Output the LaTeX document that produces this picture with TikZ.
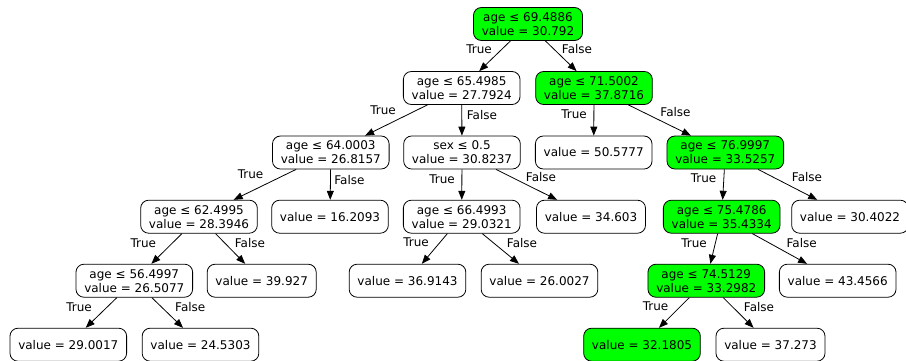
\documentclass[tikz,border=0pt]{standalone}
\usepackage{fontspec}
\setmainfont{DejaVu Sans}
\usetikzlibrary{arrows.meta}
\definecolor{splitgreen}{HTML}{00FF00}
\begin{document}
\begin{tikzpicture}[x=1pt,y=-1pt,
  treenode/.style={draw=black, line width=0.8pt, rounded corners=8pt, fill=white,
    inner xsep=8.3pt, inner ysep=0pt, minimum height=33pt, align=center,
    font=\fontsize{12}{14}\selectfont},
  hotnode/.style={treenode, fill=splitgreen},
  link/.style={draw=black, line width=0.8pt, -{Triangle[length=9pt,width=7pt]}},
  lab/.style={font=\fontsize{12}{14}\selectfont, inner sep=0pt}
]
\useasboundingbox (0,0) rectangle (906,360);
\clip (0,0) rectangle (906,360);

% level 0
\node[hotnode]  (root) at (528,24)    {age ≤ 69.4886\\value = 30.792};
% level 1
\node[treenode] (n1)  at (461.7,88)   {age ≤ 65.4985\\value = 27.7924};
\node[hotnode]  (n2)  at (594,88)     {age ≤ 71.5002\\value = 37.8716};
% level 2
\node[treenode] (n3)  at (330.8,152.5) {age ≤ 64.0003\\value = 26.8157};
\node[treenode] (n4)  at (462,152.5)   {sex ≤ 0.5\\value = 30.8237};
\node[treenode] (n5)  at (593.7,152.5) {value = 50.5777};
\node[hotnode]  (n6)  at (725.3,152.5) {age ≤ 76.9997\\value = 33.5257};
% level 3
\node[treenode] (n7)  at (199,216.7)   {age ≤ 62.4995\\value = 28.3946};
\node[treenode] (n8)  at (330,216.7)   {value = 16.2093};
\node[treenode] (n9)  at (461.7,216.7) {age ≤ 66.4993\\value = 29.0321};
\node[treenode] (n10) at (591,216.7)   {value = 34.603};
\node[hotnode]  (n11) at (721.7,216.7) {age ≤ 75.4786\\value = 35.4334};
\node[treenode] (n12) at (850,216.7)   {value = 30.4022};
% level 4
\node[treenode] (n13) at (134.3,280.7) {age ≤ 56.4997\\value = 26.5077};
\node[treenode] (n14) at (261.7,280.7) {value = 39.927};
\node[treenode] (n15) at (407.5,280.7) {value = 36.9143};
\node[treenode] (n16) at (539.5,280.7) {value = 26.0027};
\node[hotnode]  (n17) at (706.3,280.7) {age ≤ 74.5129\\value = 33.2982};
\node[treenode] (n18) at (837.7,280.7) {value = 43.4566};
% level 5
\node[treenode] (n19) at (68.3,344.7)  {value = 29.0017};
\node[treenode] (n20) at (200.5,344.7) {value = 24.5303};
\node[hotnode]  (n21) at (642,344.7)   {value = 32.1805};
\node[treenode] (n22) at (770.5,344.7) {value = 37.273};

% connectors
\draw[link] (root) -- (n1);  \draw[link] (root) -- (n2);
\draw[link] (n1) -- (n3);    \draw[link] (n1) -- (n4);
\draw[link] (n2) -- (n5);    \draw[link] (n2) -- (n6);
\draw[link] (n3) -- (n7);    \draw[link] (n3) -- (n8);
\draw[link] (n4) -- (n9);    \draw[link] (n4) -- (n10);
\draw[link] (n6) -- (n11);   \draw[link] (n6) -- (n12);
\draw[link] (n7) -- (n13);   \draw[link] (n7) -- (n14);
\draw[link] (n9) -- (n15);   \draw[link] (n9) -- (n16);
\draw[link] (n11) -- (n17);  \draw[link] (n11) -- (n18);
\draw[link] (n13) -- (n19);  \draw[link] (n13) -- (n20);
\draw[link] (n17) -- (n21);  \draw[link] (n17) -- (n22);

% branch labels
\node[lab] (t0) at (479,49)     {True};   \node[lab] (f0) at (577,49)     {False};
\node[lab] (t1) at (383,110)    {True};   \node[lab] (f1) at (482,115)    {False};
\node[lab] (t2) at (574,114.3)  {True};   \node[lab] (f2) at (675.5,112.3) {False};
\node[lab] (t3) at (250.5,174)  {True};   \node[lab] (f3) at (349.5,180)  {False};
\node[lab] (t4) at (442,179.3)  {True};   \node[lab] (f4) at (541,176.7)  {False};
\node[lab] (t6) at (703.5,178.3) {True};  \node[lab] (f6) at (807,177.3)  {False};
\node[lab] (t7) at (143.3,243.3) {True};  \node[lab] (f7) at (250,243.3)  {False};
\node[lab] (t9) at (416,242.7)  {True};   \node[lab] (f9) at (522,243)    {False};
\node[lab] (t11) at (694,243.3) {True};   \node[lab] (f11) at (801.7,242.7) {False};
\node[lab] (t13) at (79,307.3)  {True};   \node[lab] (f13) at (190.3,307) {False};
\node[lab] (t17) at (655.5,306.7) {True}; \node[lab] (f17) at (759,307.3) {False};
\end{tikzpicture}
\end{document}
